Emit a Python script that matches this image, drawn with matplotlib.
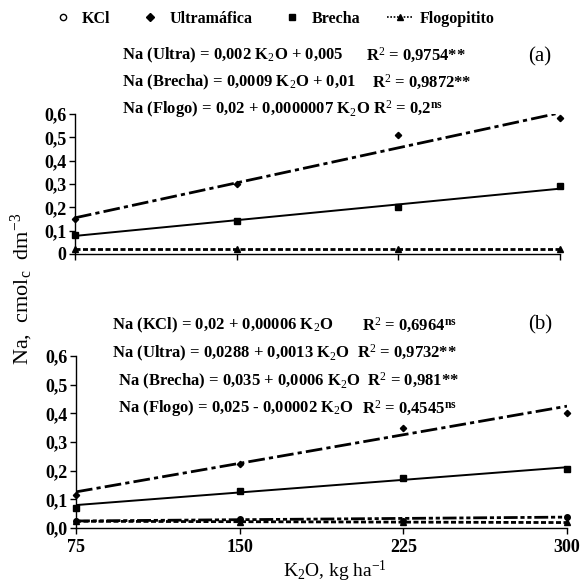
import matplotlib
matplotlib.use("Agg")
import matplotlib.pyplot as plt
from matplotlib.lines import Line2D

plt.rcParams['font.family'] = ['Liberation Serif', 'DejaVu Serif']
plt.rcParams['mathtext.fontset'] = 'custom'
plt.rcParams['mathtext.rm'] = 'Liberation Serif:bold'
plt.rcParams['mathtext.it'] = 'Liberation Serif:bold'
plt.rcParams['mathtext.bf'] = 'Liberation Serif:bold'

# data
k2o = [75, 150, 225, 300]
fit_x = [75, 300]

# (a)
ultra_a = [0.15, 0.30, 0.51, 0.585]
brecha_a = [0.08, 0.14, 0.20, 0.29]
flogo_a = [0.02, 0.02, 0.02, 0.02]
ultra_a_fit = [0.155, 0.605]
brecha_a_fit = [0.0775, 0.28]
flogo_a_fit = [0.02, 0.02]

# (b)
kcl_b = [0.025, 0.03, 0.025, 0.04]
ultra_b = [0.115, 0.225, 0.35, 0.40]
brecha_b = [0.07, 0.13, 0.175, 0.205]
flogo_b = [0.025, 0.02, 0.02, 0.02]
kcl_b_fit = [0.0245, 0.038]
ultra_b_fit = [0.126, 0.425]
brecha_b_fit = [0.08, 0.212]
flogo_b_fit = [0.0235, 0.019]

yticks = [0, 0.1, 0.2, 0.3, 0.4, 0.5, 0.6]
ylabels_a = ['0', '0,1', '0,2', '0,3', '0,4', '0,5', '0,6']
ylabels_b = ['0,0', '0,1', '0,2', '0,3', '0,4', '0,5', '0,6']

W = 586.0
def fx(x):
    return x / W
def fy(y):
    return 1 - y / W

fig = plt.figure(figsize=(5.86, 5.86), dpi=100)
ax_a = fig.add_axes([fx(75), fy(254), fx(560) - fx(75), fy(114) - fy(254)])
ax_b = fig.add_axes([fx(76), fy(528), fx(567) - fx(76), fy(356) - fy(528)])

ultra_ls = (0, (6, 1.5, 1.5, 1.5))
kcl_ls = (0, (5, 1, 1.5, 1, 1.5, 1))
flogo_ls = (0, (1.8, 0.9))

def style(ax, labels, show_x):
    ax.set_xlim(75, 300)
    ax.set_ylim(0, 0.6)
    for s in ['top', 'right']:
        ax.spines[s].set_visible(False)
    ax.spines['left'].set_linewidth(1.0)
    ax.spines['bottom'].set_linewidth(1.0)
    ax.set_yticks(yticks)
    ax.set_yticklabels(labels, fontsize=13, fontweight='bold')
    ax.set_xticks(k2o)
    if show_x:
        ax.set_xticklabels([str(v) for v in k2o], fontsize=13, fontweight='bold')
    else:
        ax.set_xticklabels([])
    ax.tick_params(axis='y', direction='out', length=4, width=1, pad=2)
    ax.tick_params(axis='x', direction='out', length=4, width=1, pad=4)

# panel a
ax_a.plot(fit_x, ultra_a_fit, color='black', lw=2, ls=ultra_ls)
ax_a.plot(fit_x, brecha_a_fit, color='black', lw=1.4)
ax_a.plot(fit_x, flogo_a_fit, color='black', lw=2, ls=flogo_ls)
ax_a.plot(k2o, ultra_a, 'D', color='black', ms=3.2, clip_on=False)
ax_a.plot(k2o, brecha_a, 's', color='black', ms=4.5, clip_on=False)
ax_a.plot(k2o, flogo_a, '^', color='black', ms=4.5, clip_on=False)
style(ax_a, ylabels_a, False)

# panel b
ax_b.plot(fit_x, ultra_b_fit, color='black', lw=2, ls=ultra_ls)
ax_b.plot(fit_x, brecha_b_fit, color='black', lw=1.4)
ax_b.plot(fit_x, kcl_b_fit, color='black', lw=2, ls=kcl_ls)
ax_b.plot(fit_x, flogo_b_fit, color='black', lw=2, ls=flogo_ls)
ax_b.plot(k2o, ultra_b, 'D', color='black', ms=3.2, clip_on=False)
ax_b.plot(k2o, brecha_b, 's', color='black', ms=4.5, clip_on=False)
ax_b.plot(k2o, kcl_b, 'o', color='black', ms=4, clip_on=False)
ax_b.plot(k2o, flogo_b, '^', color='black', ms=4.5, clip_on=False)
style(ax_b, ylabels_b, True)

# legend
handles = [
    Line2D([], [], ls='none', marker='o', mfc='white', mec='black', ms=4.5),
    Line2D([], [], ls='none', marker='D', color='black', ms=4),
    Line2D([], [], ls='none', marker='s', color='black', ms=5),
    Line2D([], [], ls=(0, (1, 1)), lw=1.2, marker='^', color='black', ms=4.5),
]
fig.legend(handles, ['KCl', 'Ultramáfica', 'Brecha', 'Flogopitito'],
           loc='center', bbox_to_anchor=(fx(272), fy(19)), ncol=4, frameon=False,
           prop={'family': 'Liberation Serif', 'weight': 'bold', 'size': 11.5},
           handlelength=1.6, handletextpad=0.4, columnspacing=1.7)

eq = dict(fontsize=12, fontweight='bold', va='center', ha='left')

fig.text(fx(122), fy(55), 'Na (Ultra) = 0,002 K$_2$O + 0,005', **eq)
fig.text(fx(366), fy(55), 'R$^2$ = 0,9754**', **eq)
fig.text(fx(122), fy(82), 'Na (Brecha) = 0,0009 K$_2$O + 0,01', **eq)
fig.text(fx(372), fy(82), 'R$^2$ = 0,9872**', **eq)
fig.text(fx(122), fy(109), 'Na (Flogo) = 0,02 + 0,0000007 K$_2$O R$^2$ = 0,2$^{ns}$', **eq)
fig.text(fx(540), fy(57), '(a)', fontsize=15, va='center', ha='center')

fig.text(fx(112), fy(325), 'Na (KCl) = 0,02 + 0,00006 K$_2$O', **eq)
fig.text(fx(362), fy(325), 'R$^2$ = 0,6964$^{ns}$', **eq)
fig.text(fx(112), fy(353), 'Na (Ultra) = 0,0288 + 0,0013 K$_2$O  R$^2$ = 0,9732**', **eq)
fig.text(fx(118), fy(381), 'Na (Brecha) = 0,035 + 0,0006 K$_2$O  R$^2$ = 0,981**', **eq)
fig.text(fx(118), fy(408), 'Na (Flogo) = 0,025 - 0,00002 K$_2$O', **eq)
fig.text(fx(362), fy(408), 'R$^2$ = 0,4545$^{ns}$', **eq)
fig.text(fx(540), fy(325), '(b)', fontsize=15, va='center', ha='center')

plt.rcParams['mathtext.rm'] = 'Liberation Serif'
fig.text(fx(22), fy(289), 'Na,  cmol$_{\\mathregular{c}}$  dm$^{\\mathregular{-3}}$', rotation=90,
         fontsize=16, va='center', ha='center')
fig.text(fx(335), fy(571), 'K$_2$O, kg ha$^{\\mathregular{-1}}$', fontsize=14, va='center', ha='center')

fig.savefig('out.png', dpi=100)
